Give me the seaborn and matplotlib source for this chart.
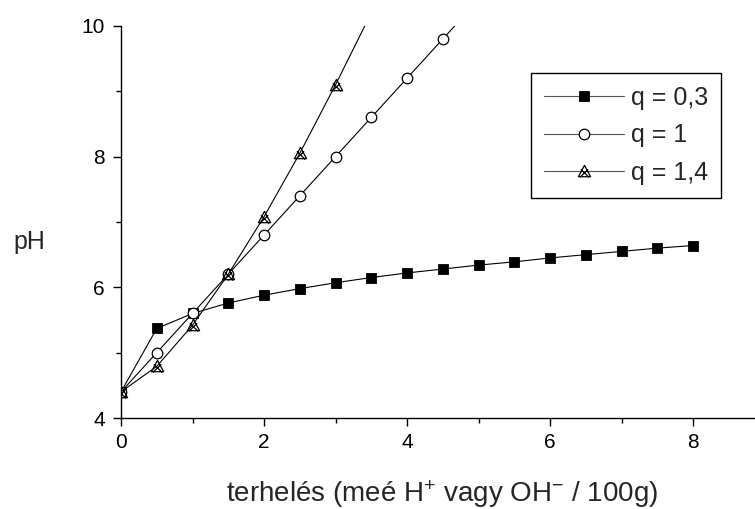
import numpy as np
import pandas as pd
import matplotlib
matplotlib.use("Agg")
import matplotlib.pyplot as plt
from matplotlib.path import Path
from matplotlib.ticker import MultipleLocator
import seaborn as sns

# ---- data ----
x_q03 = [0, 0.5, 1, 1.5, 2, 2.5, 3, 3.5, 4, 4.5, 5, 5.5, 6, 6.5, 7, 7.5, 8]
y_q03 = [4.4, 5.37, 5.6, 5.76, 5.88, 5.98, 6.07, 6.15, 6.22, 6.28, 6.34, 6.39, 6.45, 6.50, 6.55, 6.60, 6.64]
x_q1 = [0, 0.5, 1, 1.5, 2, 2.5, 3, 3.5, 4, 4.5, 5]
y_q1 = [4.4, 5.0, 5.6, 6.2, 6.8, 7.4, 8.0, 8.6, 9.2, 9.8, 10.4]
x_q14 = [0, 0.5, 1, 1.5, 2, 2.5, 3, 3.5]
y_q14 = [4.4, 4.79, 5.42, 6.2, 7.08, 8.05, 9.1, 10.2]
labels = ["q = 0,3", "q = 1", "q = 1,4"]
x_ticks = [0, 2, 4, 6, 8]
y_ticks = [4, 6, 8, 10]

sns.set_style("ticks")
plt.rcParams["font.family"] = ["Liberation Sans", "DejaVu Sans"]
plt.rcParams["mathtext.fontset"] = "custom"
plt.rcParams["mathtext.rm"] = "Liberation Sans"
plt.rcParams["mathtext.default"] = "rm"

fig = plt.figure(figsize=(7.55, 5.09), dpi=100)
ax = fig.add_axes([121/755, 91/509, 1 - 121/755, (418-26)/509])

# triangle with X marker
tri_verts = [(-1, -0.85), (1, -0.85), (0, 1), (-1, -0.85),
             (-0.75, -0.95), (0.6, 0.35), (0.75, -0.95), (-0.6, 0.35)]
tri_codes = [Path.MOVETO, Path.LINETO, Path.LINETO, Path.CLOSEPOLY,
             Path.MOVETO, Path.LINETO, Path.MOVETO, Path.LINETO]
tri_marker = Path(tri_verts, tri_codes)

lw = 0.8
sns.lineplot(x=x_q03, y=y_q03, ax=ax, color="black", lw=lw, marker="s",
             markersize=6.8, markerfacecolor="black", markeredgecolor="black",
             markeredgewidth=0.6, label=labels[0])
sns.lineplot(x=x_q1, y=y_q1, ax=ax, color="black", lw=lw, marker="o",
             markersize=7.6, markerfacecolor="white", markeredgecolor="black",
             markeredgewidth=0.9, label=labels[1])
sns.lineplot(x=x_q14, y=y_q14, ax=ax, color="black", lw=lw, marker=tri_marker,
             markersize=8.8, markerfacecolor="none", markeredgecolor="black",
             markeredgewidth=0.9, label=labels[2])

ax.set_xlim(0, (755-121)/71.5)
ax.set_ylim(4, 10)
ax.set_xticks(x_ticks)
ax.set_yticks(y_ticks)
ax.xaxis.set_minor_locator(MultipleLocator(1))
ax.yaxis.set_minor_locator(MultipleLocator(1))
ax.tick_params(which="major", direction="out", length=6, width=1.0,
               labelsize=15, color="black", labelcolor="black")
ax.tick_params(axis="x", which="major", pad=4.5)
ax.tick_params(axis="y", which="major", pad=5.5)
ax.tick_params(which="minor", direction="out", length=3.6, width=1.0, color="black")
for s in ["top", "right"]:
    ax.spines[s].set_visible(False)
for s in ["left", "bottom"]:
    ax.spines[s].set_color("black")
    ax.spines[s].set_linewidth(1.0)
ax.set_xlabel("")
ax.set_ylabel("")

fig.text(29/755, 1 - 242/509, "pH", fontsize=18, ha="center", va="center")
fig.text(442.5/755, 1 - 502/509, "terhelés (meé H$^{+}$ vagy OH$^{-}$ / 100g)",
         fontsize=20, ha="center", va="baseline")

leg = ax.legend(loc="upper right", bbox_to_anchor=(721/755, 1 - 73/509),
                bbox_transform=fig.transFigure, borderaxespad=0,
                fontsize=18, frameon=True, fancybox=False, framealpha=1,
                edgecolor="black", handlelength=3.2, handletextpad=0.3,
                labelspacing=0.55, borderpad=0.5, numpoints=1)
leg.get_frame().set_linewidth(1.0)
for h in leg.legend_handles:
    h.set_color("#555555")
    h.set_markeredgecolor("black")

fig.savefig("out.png", dpi=100)
